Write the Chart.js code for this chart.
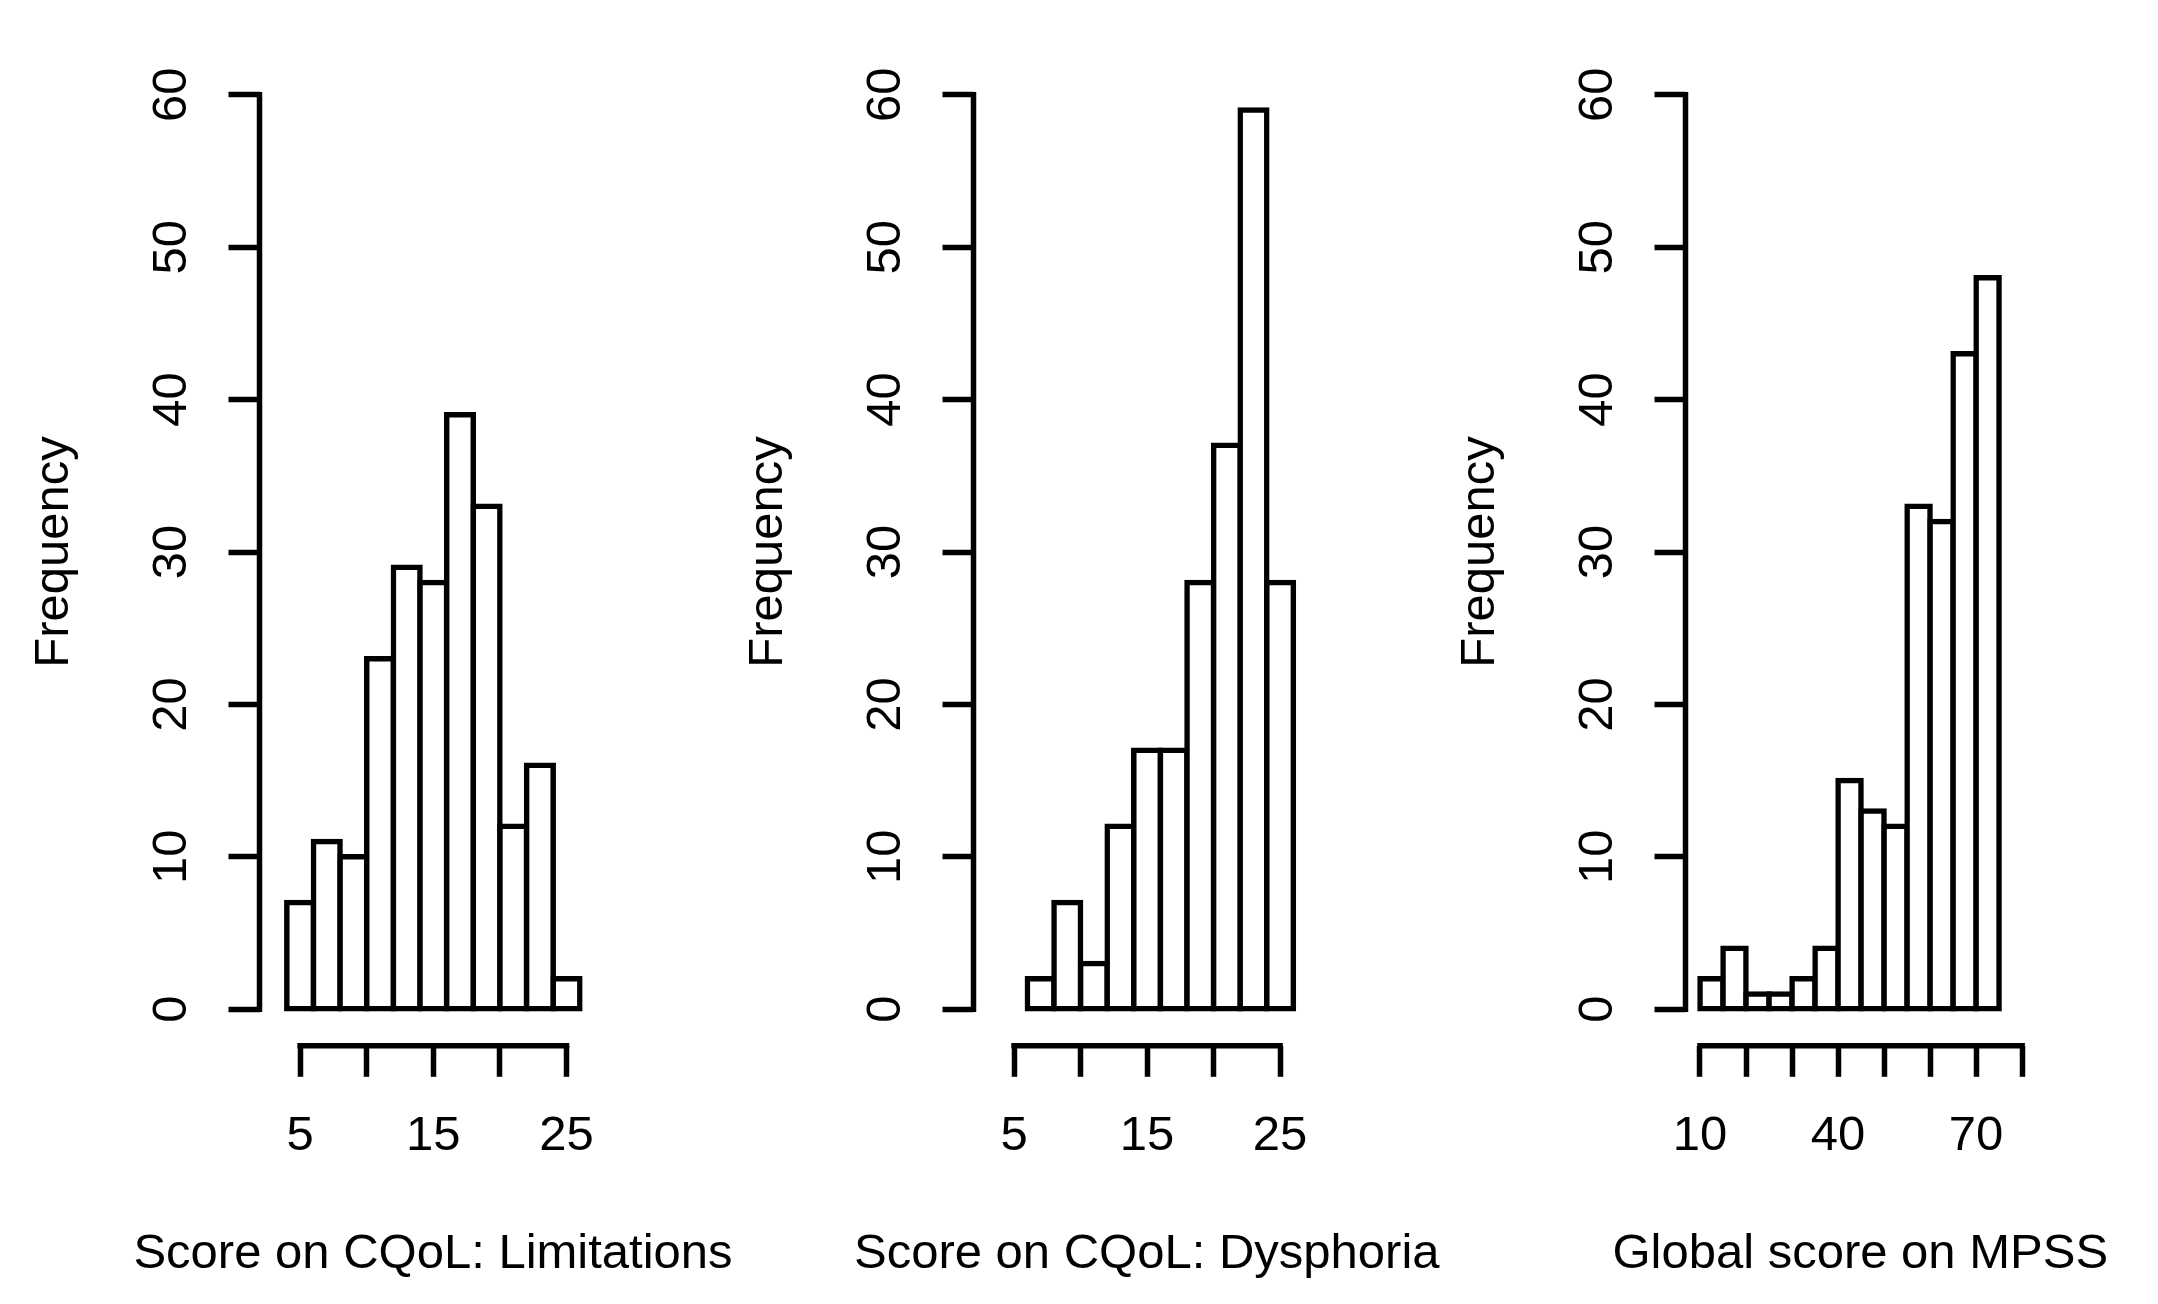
<!DOCTYPE html>
<html>
<head>
<meta charset="utf-8">
<title>Histograms</title>
<script src="https://cdn.jsdelivr.net/npm/chart.js"></script>
<style>
html, body { margin: 0; padding: 0; background: #fff; }
body { width: 2158px; height: 1304px; position: relative; overflow: hidden; }
.panel { position: absolute; top: 0; height: 1304px; }
</style>
</head>
<body>
<div class="panel" id="p1"><canvas id="c1"></canvas></div>
<div class="panel" id="p2"><canvas id="c2"></canvas></div>
<div class="panel" id="p3"><canvas id="c3"></canvas></div>
<script>
// histogram bins (break points) and counts
var limBreaks = [4, 6, 8, 10, 12, 14, 16, 18, 20, 22, 24, 26];
var limCounts = [7, 11, 10, 23, 29, 28, 39, 33, 12, 16, 2];
var dysBreaks = [6, 8, 10, 12, 14, 16, 18, 20, 22, 24, 26];
var dysCounts = [2, 7, 3, 12, 17, 17, 28, 37, 59, 28];
var mpssBreaks = [10, 15, 20, 25, 30, 35, 40, 45, 50, 55, 60, 65, 70, 75];
var mpssCounts = [2, 4, 1, 1, 2, 4, 15, 13, 12, 33, 32, 43, 48];

// axis ticks and the labels that are printed
var limTicks = [5, 10, 15, 20, 25];
var limLabels = [5, 15, 25];
var dysTicks = [5, 10, 15, 20, 25];
var dysLabels = [5, 15, 25];
var mpssTicks = [10, 20, 30, 40, 50, 60, 70, 80];
var mpssLabels = [10, 40, 70];
var freqTicks = [0, 10, 20, 30, 40, 50, 60];

var xTitles = ['Score on CQoL: Limitations', 'Score on CQoL: Dysphoria', 'Global score on MPSS'];
var yTitle = 'Frequency';

var FONT = "'Liberation Sans', Arial, Helvetica, sans-serif";
var FS = 49;
var LW = 5.5;
Chart.defaults.font.family = FONT;
Chart.defaults.color = '#000';

// R style axes: lines only between first and last tick, x label under the plot
var rAxes = {
    id: 'rAxes',
    afterDraw: function(chart, args, opts){
        var ctx = chart.ctx;
        var xs = chart.scales.x, ys = chart.scales.y;
        var area = chart.chartArea;
        ctx.save();
        ctx.strokeStyle = '#000';
        ctx.lineWidth = LW;
        ctx.lineCap = 'square';
        ctx.beginPath();
        ctx.moveTo(area.left, ys.getPixelForValue(opts.yTicks[0]));
        ctx.lineTo(area.left, ys.getPixelForValue(opts.yTicks[opts.yTicks.length-1]));
        ctx.moveTo(xs.getPixelForValue(opts.xTicks[0]), area.bottom);
        ctx.lineTo(xs.getPixelForValue(opts.xTicks[opts.xTicks.length-1]), area.bottom);
        ctx.stroke();
        // x title (scale titles get squeezed to the plot width)
        ctx.fillStyle = '#000';
        ctx.font = FS+'px '+FONT;
        ctx.textAlign = 'center';
        ctx.textBaseline = 'alphabetic';
        ctx.fillText(opts.title, (area.left+area.right)/2, 1268);
        ctx.restore();
    }
};

function histograma(id, box, breaks, counts, xTicks, xLabels, xTitle){
    var panel = document.getElementById('p'+id);
    panel.style.left = box.left+'px';
    panel.style.width = box.width+'px';
    var yWidth = box.axisX - box.left;
    var xHeight = 1304 - 1045.8;
    var puntos = [];
    for(var i=0; i<counts.length; i++){
        puntos.push({x: (breaks[i]+breaks[i+1])/2, y: counts[i]});
    }
    new Chart(document.getElementById('c'+id), {
        type: 'bar',
        data: {
            datasets: [{
                data: puntos,
                backgroundColor: '#fff',
                borderColor: '#000',
                borderWidth: LW,
                borderSkipped: false,
                inflateAmount: LW/2,
                barPercentage: 1,
                categoryPercentage: 1
            }]
        },
        plugins: [rAxes],
        options: {
            responsive: true,
            maintainAspectRatio: false,
            animation: false,
            events: [],
            layout: { padding: { top: 58.2, right: box.left+box.width-box.areaRight, bottom: 0, left: 0 } },
            plugins: {
                legend: { display: false },
                tooltip: { enabled: false },
                rAxes: { xTicks: xTicks, yTicks: freqTicks, title: xTitle }
            },
            scales: {
                x: {
                    type: 'linear',
                    min: box.xmin,
                    max: box.xmax,
                    offset: false,
                    afterBuildTicks: function(scale){
                        scale.ticks = xTicks.map(function(v){ return {value: v}; });
                    },
                    afterFit: function(scale){ scale.height = xHeight; },
                    grid: { offset: false, drawOnChartArea: false, drawTicks: true, tickLength: 31, tickWidth: LW, tickColor: '#000' },
                    border: { display: false },
                    ticks: {
                        autoSkip: false,
                        maxRotation: 0,
                        padding: 30.6,
                        font: { size: FS },
                        color: '#000',
                        callback: function(v){ return xLabels.indexOf(v) >= 0 ? String(v) : ''; }
                    },
                    title: { display: false }
                },
                y: {
                    type: 'linear',
                    min: -2.4,
                    max: 62.4,
                    afterBuildTicks: function(scale){
                        scale.ticks = freqTicks.map(function(v){ return {value: v}; });
                    },
                    afterFit: function(scale){ scale.width = yWidth; },
                    grid: { drawOnChartArea: false, drawTicks: true, tickLength: 31, tickWidth: LW, tickColor: '#000' },
                    border: { display: false },
                    ticks: {
                        minRotation: 90,
                        maxRotation: 90,
                        crossAlign: 'center',
                        padding: 28.5,
                        font: { size: FS },
                        color: '#000'
                    },
                    title: {
                        display: true,
                        text: yTitle,
                        color: '#000',
                        font: { size: FS, lineHeight: 1.2 },
                        padding: { top: yWidth - 205 - 29.4, bottom: 0 }
                    }
                }
            }
        }
    });
}

window.addEventListener('load', ()=>{
    histograma(1, {left: 0, width: 760, axisX: 259.5, areaRight: 606.5, xmin: 1.95, xmax: 28}, limBreaks, limCounts, limTicks, limLabels, xTitles[0]);
    histograma(2, {left: 700, width: 780, axisX: 973.5, areaRight: 1320, xmin: 1.95, xmax: 28}, dysBreaks, dysCounts, dysTicks, dysLabels, xTitles[1]);
    histograma(3, {left: 1420, width: 738, axisX: 1685.5, areaRight: 2035, xmin: 6.85, xmax: 82.8}, mpssBreaks, mpssCounts, mpssTicks, mpssLabels, xTitles[2]);
});
</script>
</body>
</html>
